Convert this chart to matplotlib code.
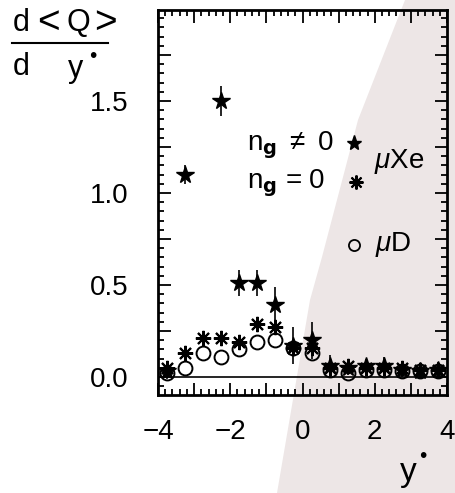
import matplotlib
matplotlib.use("Agg")
import matplotlib.pyplot as plt
import numpy as np
from matplotlib.patches import Polygon
from matplotlib.ticker import MultipleLocator

plt.rcParams['font.family'] = ['Liberation Sans', 'DejaVu Sans']
plt.rcParams['mathtext.fontset'] = 'custom'
plt.rcParams['mathtext.rm'] = 'Liberation Sans'
plt.rcParams['mathtext.it'] = 'Liberation Sans:italic'

# bin centres in y*
ybins = [-3.75, -3.25, -2.75, -2.25, -1.75, -1.25, -0.75, -0.25,
         0.25, 0.75, 1.25, 1.75, 2.25, 2.75, 3.25, 3.75]

# muXe, n_g != 0 (stars)
xe_ng = [0.03, 1.10, np.nan, 1.50, 0.51, 0.51, 0.39, 0.17,
         0.20, 0.06, 0.05, 0.06, 0.06, 0.04, 0.03, 0.04]
xe_ng_err = [0.04, 0.05, np.nan, 0.08, 0.07, 0.07, 0.10, 0.10,
             0.10, 0.06, 0.04, 0.04, 0.05, 0.04, 0.04, 0.04]

# muXe, n_g = 0 (asterisks)
xe_0 = [0.05, 0.13, 0.21, 0.21, 0.19, 0.29, 0.27, 0.16,
        0.16, 0.05, 0.06, 0.05, 0.05, 0.05, 0.04, 0.04]

# muD (open circles)
mud = [0.02, 0.05, 0.13, 0.11, 0.15, 0.19, 0.20, 0.16,
       0.13, 0.04, 0.02, 0.04, 0.04, 0.03, 0.03, 0.03]

xticks = [-4, -3, -2, -1, 0, 1, 2, 3, 4]
xlabels = ['\u22124', '', '\u22122', '', '0', '', '2', '', '4']
yticks = [0.0, 0.25, 0.5, 0.75, 1.0, 1.25, 1.5, 1.75]
ylabels = ['0.0', '', '0.5', '', '1.0', '', '1.5', '']

W, H = 456, 493
fig = plt.figure(figsize=(W / 100, H / 100), dpi=100)

# grey scan shading on right side
shade = [(405, 0), (358, 120), (322, 257), (310, 300), (277, 493), (456, 493), (456, 0)]
fig.patches.append(Polygon([(x / W, 1 - y / H) for x, y in shade], closed=True,
                           transform=fig.transFigure, facecolor='#ede6e6',
                           edgecolor='none', zorder=-10))

ax = fig.add_axes([158 / W, 1 - 395 / H, (447 - 158) / W, (395 - 10) / H])
ax.set_facecolor('none')

ax.axhline(0, color='black', lw=1.2)

ax.errorbar(ybins, xe_ng, yerr=xe_ng_err, fmt='*', color='black', ms=13,
            elinewidth=1.2, capsize=0, zorder=4)
ax.plot(ybins, xe_0, ls='none', marker=(8, 2, 0), color='black', ms=11,
        mew=1.5, zorder=3)
ax.plot(ybins, mud, ls='none', marker='o', mfc='none', mec='black', ms=10,
        mew=1.4, zorder=3)

ax.set_xlim(-4, 4)
ax.set_ylim(-0.098, 1.995)
ax.set_xticks(xticks)
ax.set_xticklabels(xlabels)
ax.set_yticks(yticks)
ax.set_yticklabels(ylabels)
ax.xaxis.set_minor_locator(MultipleLocator(0.2))
ax.yaxis.set_minor_locator(MultipleLocator(0.05))
ax.tick_params(which='both', direction='in', top=True, right=True, width=1.3)
ax.tick_params(which='major', length=9)
ax.tick_params(which='minor', length=4)
ax.tick_params(axis='x', which='major', labelsize=20, pad=17)
ax.tick_params(axis='y', which='major', labelsize=20, pad=21)
for s in ax.spines.values():
    s.set_linewidth(2)

# legend text
ax.text(-1.55, 1.26, r'n$_{\mathbf{g}}$ $\neq$ 0', fontsize=20, va='center')
ax.plot([1.43], [1.27], marker='*', color='black', ms=11, ls='none')
ax.text(1.99, 1.17, r'$\mu$Xe', fontsize=20, va='center')
ax.text(-1.55, 1.05, r'n$_{\mathbf{g}}$ = 0', fontsize=20, va='center')
ax.plot([1.49], [1.06], marker=(8, 2, 0), color='black', ms=10, mew=1.5, ls='none')
ax.plot([1.43], [0.72], marker='o', mfc='none', mec='black', ms=8, mew=1.3, ls='none')
ax.text(2.0, 0.72, r'$\mu$D', fontsize=20, va='center')

# y label as a fraction at top-left
for ch, xp, fs in zip(['d', '<', 'Q', '>'], [13, 37, 66, 94], [22, 28, 22, 28]):
    fig.text(xp / W, 1 - 23 / H, ch, fontsize=fs, va='center', ha='left')
fig.add_artist(plt.Line2D([12 / W, 108 / W], [1 - 43 / H, 1 - 43 / H],
                          color='black', lw=1.5, transform=fig.transFigure))
fig.text(13 / W, 1 - 67 / H, 'd', fontsize=22, va='center', ha='left')
fig.text(68 / W, 1 - 69 / H, 'y', fontsize=22, va='center', ha='left')
fig.text(89 / W, 1 - 56 / H, '\u2022', fontsize=15, va='center', ha='left')

# x label
fig.text(400 / W, 1 - 472 / H, 'y', fontsize=24, va='center', ha='left')
fig.text(419 / W, 1 - 456 / H, '\u2022', fontsize=15, va='center', ha='left')

fig.savefig('out.png', dpi=100)
